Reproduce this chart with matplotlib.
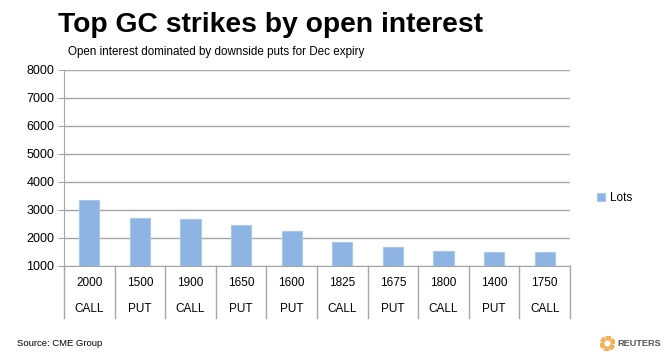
import matplotlib
matplotlib.use("Agg")
import matplotlib.pyplot as plt
from matplotlib.patches import Wedge

plt.rcParams['font.family'] = ['Liberation Sans', 'DejaVu Sans']

strikes = ["2000", "1500", "1900", "1650", "1600", "1825", "1675", "1800", "1400", "1750"]
types = ["CALL", "PUT", "CALL", "PUT", "PUT", "CALL", "PUT", "CALL", "PUT", "CALL"]
lots = [3370, 2700, 2680, 2450, 2250, 1850, 1690, 1525, 1515, 1495]
yticks = [1000, 2000, 3000, 4000, 5000, 6000, 7000, 8000]

W, H = 666, 357
fig = plt.figure(figsize=(W / 100, H / 100), dpi=100)
left, right, top, bottom = 64, 570, 70, 266
ax = fig.add_axes([left / W, 1 - bottom / H, (right - left) / W, (bottom - top) / H])

x = list(range(len(lots)))
ax.bar(x, [v - 1000 for v in lots], bottom=1000, width=0.4, color="#8DB4E2",
       edgecolor="#A9C8EC", linewidth=0.8, label="Lots", zorder=3)
ax.set_xlim(-0.5, len(lots) - 0.5)
ax.set_ylim(1000, 8000)
ax.set_yticks(yticks)
ax.set_yticklabels([str(v) for v in yticks], fontsize=9)
ax.yaxis.grid(True, color="#A6A6A6", linewidth=1.0, zorder=0)
ax.set_axisbelow(True)
ax.set_xticks([])
for s in ["top", "right"]:
    ax.spines[s].set_visible(False)
ax.spines["left"].set_color("#A6A6A6")
ax.spines["bottom"].set_color("#A6A6A6")
ax.tick_params(axis="y", length=4, color="#A6A6A6", pad=3)

# category table
trans = ax.get_xaxis_transform()
depth = (318 - bottom) / (bottom - top)
for b in [i - 0.5 for i in range(len(lots) + 1)]:
    ax.plot([b, b], [0, -depth], transform=trans, color="#A6A6A6", lw=1.0, clip_on=False)
y1 = -(283 - bottom) / (bottom - top)
y2 = -(309 - bottom) / (bottom - top)
for i, (s, t) in enumerate(zip(strikes, types)):
    ax.text(i, y1, s, transform=trans, ha="center", va="center", fontsize=8.5)
    ax.text(i, y2, t, transform=trans, ha="center", va="center", fontsize=8.5)

ax.legend(loc="center left", bbox_to_anchor=(586 / W, 1 - 198 / H), bbox_transform=fig.transFigure,
          frameon=False, fontsize=8.5, handlelength=0.7, handleheight=0.7, handletextpad=0.4)

fig.text(58 / W, 1 - 32 / H, "Top GC strikes by open interest", fontsize=20.3, fontweight="bold",
         ha="left", va="baseline")
fig.text(68 / W, 1 - 55 / H, "Open interest dominated by downside puts for Dec expiry", fontsize=8.4,
         ha="left", va="baseline")
fig.text(17 / W, 1 - 344 / H, "Source: CME Group", fontsize=6.8, ha="left", va="center")
fig.text(617 / W, 1 - 343 / H, "REUTERS", fontsize=6.6, fontweight="bold", color="#555555",
         ha="left", va="center")
lax = fig.add_axes([600 / W, 1 - 351 / H, 15 / W, 15 / H])
lax.set_xlim(-1, 1); lax.set_ylim(-1, 1); lax.set_aspect("equal"); lax.axis("off")
for k in range(6):
    lax.add_patch(Wedge((0, 0), 0.95, k * 60, k * 60 + 40, width=0.45, color="#F0A848", alpha=0.85))

fig.savefig("out.png", dpi=100, facecolor="white")
